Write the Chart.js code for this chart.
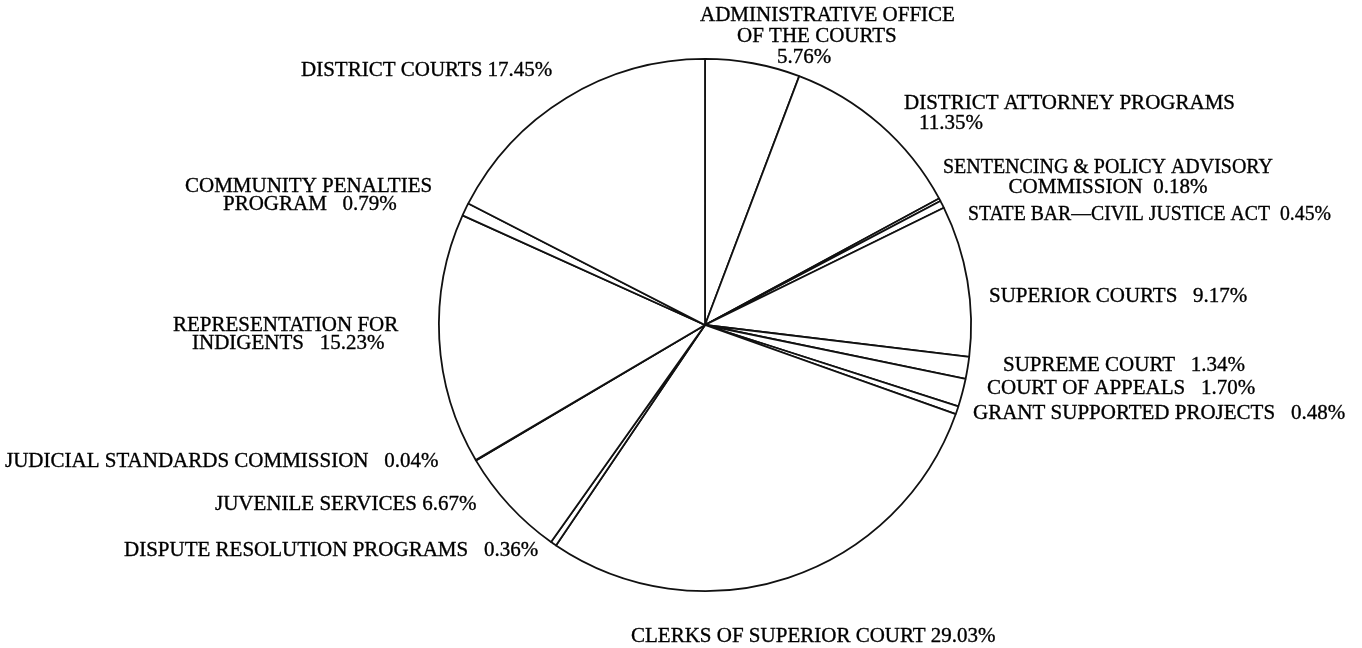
<!DOCTYPE html>
<html>
<head>
<meta charset="utf-8">
<script src="https://cdn.jsdelivr.net/npm/chart.js@4.4.0/dist/chart.umd.min.js"></script>
<style>
html,body{margin:0;padding:0;background:#fff;}
#wrap{width:1362px;height:648px;position:relative;}
</style>
</head>
<body>
<div id="wrap"><canvas id="c" width="1362" height="648"></canvas></div>
<script>
// ---- data ----
const categories = [
  "ADMINISTRATIVE OFFICE OF THE COURTS",
  "DISTRICT ATTORNEY PROGRAMS",
  "SENTENCING & POLICY ADVISORY COMMISSION",
  "STATE BAR—CIVIL JUSTICE ACT",
  "SUPERIOR COURTS",
  "SUPREME COURT",
  "COURT OF APPEALS",
  "GRANT SUPPORTED PROJECTS",
  "CLERKS OF SUPERIOR COURT",
  "DISPUTE RESOLUTION PROGRAMS",
  "JUVENILE SERVICES",
  "JUDICIAL STANDARDS COMMISSION",
  "REPRESENTATION FOR INDIGENTS",
  "COMMUNITY PENALTIES PROGRAM",
  "DISTRICT COURTS"
];
const shares = [5.76, 11.35, 0.18, 0.45, 9.17, 1.34, 1.70, 0.48, 29.03, 0.36, 6.67, 0.04, 15.23, 0.79, 17.45];
// label text lines; {p} is replaced with the share value
const labelLines = [
  ["ADMINISTRATIVE OFFICE", "OF THE COURTS", "{p}"],
  ["DISTRICT ATTORNEY PROGRAMS", "{p}"],
  ["SENTENCING & POLICY ADVISORY", "COMMISSION  {p}"],
  ["STATE BAR\u2014CIVIL JUSTICE ACT  {p}"],
  ["SUPERIOR COURTS   {p}"],
  ["SUPREME COURT   {p}"],
  ["COURT OF APPEALS   {p}"],
  ["GRANT SUPPORTED PROJECTS   {p}"],
  ["CLERKS OF SUPERIOR COURT {p}"],
  ["DISPUTE RESOLUTION PROGRAMS   {p}"],
  ["JUVENILE SERVICES {p}"],
  ["JUDICIAL STANDARDS COMMISSION   {p}"],
  ["REPRESENTATION FOR", "INDIGENTS   {p}"],
  ["COMMUNITY PENALTIES", "PROGRAM   {p}"],
  ["DISTRICT COURTS {p}"]
];

// ---- layout (label placement, pixels): per line [x, y, align, maxWidth] ----
const labelPos = [
  [[700, 15, "left"], [737, 36, "left"], [777, 57, "left"]],
  [[904, 103, "left"], [919, 123, "left"]],
  [[1108, 167, "center", 330], [1108, 187, "center"]],
  [[968, 214, "left", 363]],
  [[989, 296, "left"]],
  [[1003, 365, "left"]],
  [[987, 388, "left"]],
  [[973, 413, "left"]],
  [[631, 636, "left"]],
  [[124, 550, "left"]],
  [[215, 504, "left"]],
  [[5, 461, "left"]],
  [[173, 325, "left"], [192, 343, "left"]],
  [[185, 186, "left"], [223, 204, "left"]],
  [[301, 70, "left"]]
];

const labelPlugin = {
  id: "outsideLabels",
  afterDraw(chart) {
    const ctx = chart.ctx;
    ctx.save();
    ctx.font = '21px "Liberation Serif", "DejaVu Serif", serif';
    ctx.fillStyle = "#000";
    ctx.strokeStyle = "#000";
    ctx.lineWidth = 0.35;
    ctx.textBaseline = "middle";
    labelLines.forEach((lines, i) => {
      const pct = shares[i].toFixed(2) + "%";
      lines.forEach((t, j) => {
        const [x, y, align, mw] = labelPos[i][j];
        const s = t.replace("{p}", pct);
        ctx.textAlign = align;
        if (mw) { ctx.fillText(s, x, y, mw); ctx.strokeText(s, x, y, mw); }
        else { ctx.fillText(s, x, y); ctx.strokeText(s, x, y); }
      });
    });
    ctx.restore();
  }
};

new Chart(document.getElementById("c"), {
  type: "pie",
  data: {
    labels: categories,
    datasets: [{
      data: shares,
      backgroundColor: "#ffffff",
      borderColor: "#111111",
      borderWidth: 1.8
    }]
  },
  options: {
    responsive: false,
    animation: false,
    rotation: 0,
    layout: { padding: { top: 58, bottom: 56, left: 48, right: 0 } },
    plugins: {
      legend: { display: false },
      tooltip: { enabled: false }
    }
  },
  plugins: [labelPlugin]
});
</script>
</body>
</html>
